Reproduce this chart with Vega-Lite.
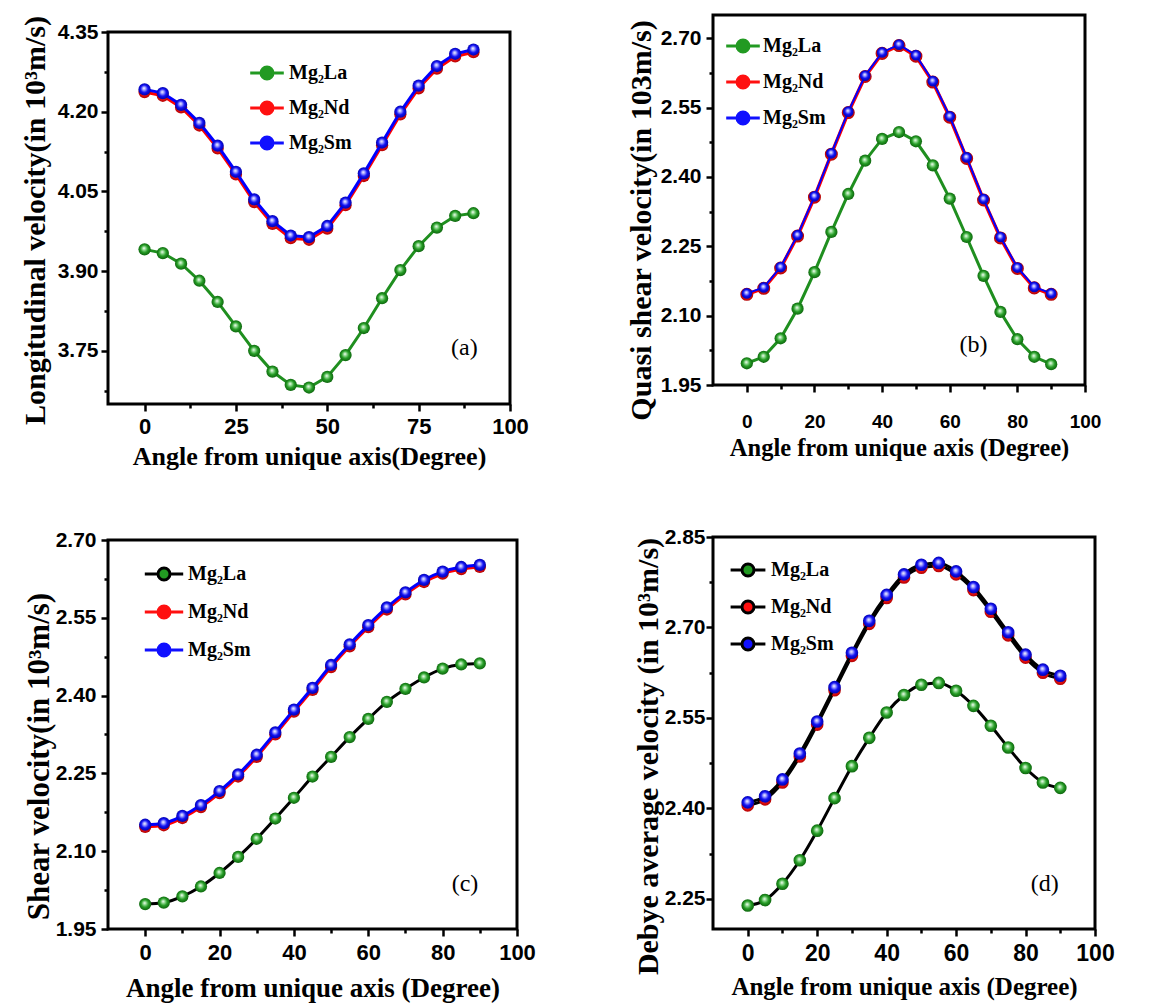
{
  "$schema": "https://vega.github.io/schema/vega-lite/v6.json",
  "padding": {"left": 18, "top": 13, "right": 5, "bottom": 0},
  "background": "white",
  "config": {
    "view": {"stroke": "black", "strokeWidth": 3},
    "axis": {"domain": false, "grid": false, "tickColor": "black", "tickWidth": 2.5, "tickSize": 7, "labelFont": "Liberation Sans", "labelFontWeight": "bold", "labelColor": "black", "labelFontSize": 21, "titleFont": "Liberation Serif", "titleFontWeight": "bold", "titleFontSize": 26, "titleColor": "black", "labelOverlap": false, "labelFlush": false, "labelPadding": 3},
    "axisY": {"titleFontSize": 30},
    "legend": {"labelFont": "Liberation Serif", "labelFontWeight": "bold", "labelFontSize": 20, "labelColor": "black"}
  },
  "datasets": {
    "a": [
      {"angle":0,"series":"Mg₂La","v":3.941},{"angle":5,"series":"Mg₂La","v":3.934},{"angle":10,"series":"Mg₂La","v":3.914},{"angle":15,"series":"Mg₂La","v":3.882},{"angle":20,"series":"Mg₂La","v":3.842},{"angle":25,"series":"Mg₂La","v":3.796},{"angle":30,"series":"Mg₂La","v":3.750},{"angle":35,"series":"Mg₂La","v":3.711},{"angle":40,"series":"Mg₂La","v":3.686},{"angle":45,"series":"Mg₂La","v":3.681},{"angle":50,"series":"Mg₂La","v":3.701},{"angle":55,"series":"Mg₂La","v":3.742},{"angle":60,"series":"Mg₂La","v":3.793},{"angle":65,"series":"Mg₂La","v":3.849},{"angle":70,"series":"Mg₂La","v":3.902},{"angle":75,"series":"Mg₂La","v":3.947},{"angle":80,"series":"Mg₂La","v":3.982},{"angle":85,"series":"Mg₂La","v":4.004},{"angle":90,"series":"Mg₂La","v":4.009},
      {"angle":0,"series":"Mg₂Nd","v":4.237},{"angle":5,"series":"Mg₂Nd","v":4.230},{"angle":10,"series":"Mg₂Nd","v":4.208},{"angle":15,"series":"Mg₂Nd","v":4.174},{"angle":20,"series":"Mg₂Nd","v":4.131},{"angle":25,"series":"Mg₂Nd","v":4.082},{"angle":30,"series":"Mg₂Nd","v":4.030},{"angle":35,"series":"Mg₂Nd","v":3.989},{"angle":40,"series":"Mg₂Nd","v":3.962},{"angle":45,"series":"Mg₂Nd","v":3.959},{"angle":50,"series":"Mg₂Nd","v":3.980},{"angle":55,"series":"Mg₂Nd","v":4.024},{"angle":60,"series":"Mg₂Nd","v":4.079},{"angle":65,"series":"Mg₂Nd","v":4.137},{"angle":70,"series":"Mg₂Nd","v":4.195},{"angle":75,"series":"Mg₂Nd","v":4.244},{"angle":80,"series":"Mg₂Nd","v":4.281},{"angle":85,"series":"Mg₂Nd","v":4.304},{"angle":90,"series":"Mg₂Nd","v":4.312},
      {"angle":0,"series":"Mg₂Sm","v":4.242},{"angle":5,"series":"Mg₂Sm","v":4.235},{"angle":10,"series":"Mg₂Sm","v":4.213},{"angle":15,"series":"Mg₂Sm","v":4.179},{"angle":20,"series":"Mg₂Sm","v":4.136},{"angle":25,"series":"Mg₂Sm","v":4.087},{"angle":30,"series":"Mg₂Sm","v":4.035},{"angle":35,"series":"Mg₂Sm","v":3.994},{"angle":40,"series":"Mg₂Sm","v":3.967},{"angle":45,"series":"Mg₂Sm","v":3.964},{"angle":50,"series":"Mg₂Sm","v":3.985},{"angle":55,"series":"Mg₂Sm","v":4.029},{"angle":60,"series":"Mg₂Sm","v":4.084},{"angle":65,"series":"Mg₂Sm","v":4.142},{"angle":70,"series":"Mg₂Sm","v":4.200},{"angle":75,"series":"Mg₂Sm","v":4.249},{"angle":80,"series":"Mg₂Sm","v":4.286},{"angle":85,"series":"Mg₂Sm","v":4.309},{"angle":90,"series":"Mg₂Sm","v":4.317}
    ],
    "b": [
      {"angle":0,"series":"Mg₂La","v":1.997},{"angle":5,"series":"Mg₂La","v":2.011},{"angle":10,"series":"Mg₂La","v":2.051},{"angle":15,"series":"Mg₂La","v":2.115},{"angle":20,"series":"Mg₂La","v":2.194},{"angle":25,"series":"Mg₂La","v":2.281},{"angle":30,"series":"Mg₂La","v":2.363},{"angle":35,"series":"Mg₂La","v":2.435},{"angle":40,"series":"Mg₂La","v":2.482},{"angle":45,"series":"Mg₂La","v":2.497},{"angle":50,"series":"Mg₂La","v":2.477},{"angle":55,"series":"Mg₂La","v":2.425},{"angle":60,"series":"Mg₂La","v":2.353},{"angle":65,"series":"Mg₂La","v":2.270},{"angle":70,"series":"Mg₂La","v":2.186},{"angle":75,"series":"Mg₂La","v":2.108},{"angle":80,"series":"Mg₂La","v":2.049},{"angle":85,"series":"Mg₂La","v":2.011},{"angle":90,"series":"Mg₂La","v":1.995},
      {"angle":0,"series":"Mg₂Nd","v":2.146},{"angle":5,"series":"Mg₂Nd","v":2.159},{"angle":10,"series":"Mg₂Nd","v":2.203},{"angle":15,"series":"Mg₂Nd","v":2.272},{"angle":20,"series":"Mg₂Nd","v":2.356},{"angle":25,"series":"Mg₂Nd","v":2.449},{"angle":30,"series":"Mg₂Nd","v":2.539},{"angle":35,"series":"Mg₂Nd","v":2.617},{"angle":40,"series":"Mg₂Nd","v":2.667},{"angle":45,"series":"Mg₂Nd","v":2.684},{"angle":50,"series":"Mg₂Nd","v":2.661},{"angle":55,"series":"Mg₂Nd","v":2.605},{"angle":60,"series":"Mg₂Nd","v":2.529},{"angle":65,"series":"Mg₂Nd","v":2.440},{"angle":70,"series":"Mg₂Nd","v":2.350},{"angle":75,"series":"Mg₂Nd","v":2.268},{"angle":80,"series":"Mg₂Nd","v":2.202},{"angle":85,"series":"Mg₂Nd","v":2.160},{"angle":90,"series":"Mg₂Nd","v":2.146},
      {"angle":0,"series":"Mg₂Sm","v":2.148},{"angle":5,"series":"Mg₂Sm","v":2.161},{"angle":10,"series":"Mg₂Sm","v":2.205},{"angle":15,"series":"Mg₂Sm","v":2.274},{"angle":20,"series":"Mg₂Sm","v":2.358},{"angle":25,"series":"Mg₂Sm","v":2.451},{"angle":30,"series":"Mg₂Sm","v":2.541},{"angle":35,"series":"Mg₂Sm","v":2.619},{"angle":40,"series":"Mg₂Sm","v":2.669},{"angle":45,"series":"Mg₂Sm","v":2.686},{"angle":50,"series":"Mg₂Sm","v":2.663},{"angle":55,"series":"Mg₂Sm","v":2.607},{"angle":60,"series":"Mg₂Sm","v":2.531},{"angle":65,"series":"Mg₂Sm","v":2.442},{"angle":70,"series":"Mg₂Sm","v":2.352},{"angle":75,"series":"Mg₂Sm","v":2.270},{"angle":80,"series":"Mg₂Sm","v":2.204},{"angle":85,"series":"Mg₂Sm","v":2.162},{"angle":90,"series":"Mg₂Sm","v":2.148}
    ],
    "c": [
      {"angle":0,"series":"Mg₂La","v":1.998},{"angle":5,"series":"Mg₂La","v":2.001},{"angle":10,"series":"Mg₂La","v":2.013},{"angle":15,"series":"Mg₂La","v":2.032},{"angle":20,"series":"Mg₂La","v":2.058},{"angle":25,"series":"Mg₂La","v":2.089},{"angle":30,"series":"Mg₂La","v":2.124},{"angle":35,"series":"Mg₂La","v":2.163},{"angle":40,"series":"Mg₂La","v":2.203},{"angle":45,"series":"Mg₂La","v":2.244},{"angle":50,"series":"Mg₂La","v":2.282},{"angle":55,"series":"Mg₂La","v":2.320},{"angle":60,"series":"Mg₂La","v":2.355},{"angle":65,"series":"Mg₂La","v":2.388},{"angle":70,"series":"Mg₂La","v":2.413},{"angle":75,"series":"Mg₂La","v":2.435},{"angle":80,"series":"Mg₂La","v":2.452},{"angle":85,"series":"Mg₂La","v":2.460},{"angle":90,"series":"Mg₂La","v":2.462},
      {"angle":0,"series":"Mg₂Nd","v":2.147},{"angle":5,"series":"Mg₂Nd","v":2.150},{"angle":10,"series":"Mg₂Nd","v":2.164},{"angle":15,"series":"Mg₂Nd","v":2.185},{"angle":20,"series":"Mg₂Nd","v":2.212},{"angle":25,"series":"Mg₂Nd","v":2.244},{"angle":30,"series":"Mg₂Nd","v":2.282},{"angle":35,"series":"Mg₂Nd","v":2.325},{"angle":40,"series":"Mg₂Nd","v":2.369},{"angle":45,"series":"Mg₂Nd","v":2.411},{"angle":50,"series":"Mg₂Nd","v":2.455},{"angle":55,"series":"Mg₂Nd","v":2.495},{"angle":60,"series":"Mg₂Nd","v":2.532},{"angle":65,"series":"Mg₂Nd","v":2.566},{"angle":70,"series":"Mg₂Nd","v":2.595},{"angle":75,"series":"Mg₂Nd","v":2.619},{"angle":80,"series":"Mg₂Nd","v":2.635},{"angle":85,"series":"Mg₂Nd","v":2.644},{"angle":90,"series":"Mg₂Nd","v":2.648},
      {"angle":0,"series":"Mg₂Sm","v":2.151},{"angle":5,"series":"Mg₂Sm","v":2.154},{"angle":10,"series":"Mg₂Sm","v":2.168},{"angle":15,"series":"Mg₂Sm","v":2.189},{"angle":20,"series":"Mg₂Sm","v":2.216},{"angle":25,"series":"Mg₂Sm","v":2.248},{"angle":30,"series":"Mg₂Sm","v":2.286},{"angle":35,"series":"Mg₂Sm","v":2.329},{"angle":40,"series":"Mg₂Sm","v":2.373},{"angle":45,"series":"Mg₂Sm","v":2.415},{"angle":50,"series":"Mg₂Sm","v":2.459},{"angle":55,"series":"Mg₂Sm","v":2.499},{"angle":60,"series":"Mg₂Sm","v":2.536},{"angle":65,"series":"Mg₂Sm","v":2.570},{"angle":70,"series":"Mg₂Sm","v":2.599},{"angle":75,"series":"Mg₂Sm","v":2.623},{"angle":80,"series":"Mg₂Sm","v":2.639},{"angle":85,"series":"Mg₂Sm","v":2.648},{"angle":90,"series":"Mg₂Sm","v":2.652}
    ],
    "d": [
      {"angle":0,"series":"Mg₂La","v":2.239},{"angle":5,"series":"Mg₂La","v":2.248},{"angle":10,"series":"Mg₂La","v":2.275},{"angle":15,"series":"Mg₂La","v":2.314},{"angle":20,"series":"Mg₂La","v":2.363},{"angle":25,"series":"Mg₂La","v":2.417},{"angle":30,"series":"Mg₂La","v":2.470},{"angle":35,"series":"Mg₂La","v":2.517},{"angle":40,"series":"Mg₂La","v":2.559},{"angle":45,"series":"Mg₂La","v":2.588},{"angle":50,"series":"Mg₂La","v":2.605},{"angle":55,"series":"Mg₂La","v":2.608},{"angle":60,"series":"Mg₂La","v":2.595},{"angle":65,"series":"Mg₂La","v":2.570},{"angle":70,"series":"Mg₂La","v":2.537},{"angle":75,"series":"Mg₂La","v":2.501},{"angle":80,"series":"Mg₂La","v":2.467},{"angle":85,"series":"Mg₂La","v":2.443},{"angle":90,"series":"Mg₂La","v":2.434},
      {"angle":0,"series":"Mg₂Nd","v":2.405},{"angle":5,"series":"Mg₂Nd","v":2.415},{"angle":10,"series":"Mg₂Nd","v":2.443},{"angle":15,"series":"Mg₂Nd","v":2.486},{"angle":20,"series":"Mg₂Nd","v":2.539},{"angle":25,"series":"Mg₂Nd","v":2.596},{"angle":30,"series":"Mg₂Nd","v":2.653},{"angle":35,"series":"Mg₂Nd","v":2.706},{"angle":40,"series":"Mg₂Nd","v":2.749},{"angle":45,"series":"Mg₂Nd","v":2.783},{"angle":50,"series":"Mg₂Nd","v":2.799},{"angle":55,"series":"Mg₂Nd","v":2.802},{"angle":60,"series":"Mg₂Nd","v":2.788},{"angle":65,"series":"Mg₂Nd","v":2.762},{"angle":70,"series":"Mg₂Nd","v":2.726},{"angle":75,"series":"Mg₂Nd","v":2.687},{"angle":80,"series":"Mg₂Nd","v":2.650},{"angle":85,"series":"Mg₂Nd","v":2.625},{"angle":90,"series":"Mg₂Nd","v":2.615},
      {"angle":0,"series":"Mg₂Sm","v":2.410},{"angle":5,"series":"Mg₂Sm","v":2.420},{"angle":10,"series":"Mg₂Sm","v":2.448},{"angle":15,"series":"Mg₂Sm","v":2.491},{"angle":20,"series":"Mg₂Sm","v":2.544},{"angle":25,"series":"Mg₂Sm","v":2.601},{"angle":30,"series":"Mg₂Sm","v":2.658},{"angle":35,"series":"Mg₂Sm","v":2.711},{"angle":40,"series":"Mg₂Sm","v":2.754},{"angle":45,"series":"Mg₂Sm","v":2.788},{"angle":50,"series":"Mg₂Sm","v":2.804},{"angle":55,"series":"Mg₂Sm","v":2.807},{"angle":60,"series":"Mg₂Sm","v":2.793},{"angle":65,"series":"Mg₂Sm","v":2.767},{"angle":70,"series":"Mg₂Sm","v":2.731},{"angle":75,"series":"Mg₂Sm","v":2.692},{"angle":80,"series":"Mg₂Sm","v":2.655},{"angle":85,"series":"Mg₂Sm","v":2.630},{"angle":90,"series":"Mg₂Sm","v":2.620}
    ]
  },
  "spacing": 605,
  "bounds": "flush",
  "resolve": {"scale": {"fill": "independent"}, "legend": {"fill": "independent"}},
  "hconcat": [
    {
      "spacing": 0,
      "bounds": "flush",
      "resolve": {"scale": {"fill": "independent"}, "legend": {"fill": "independent"}},
      "vconcat": [
        {"width": 10, "height": 17, "view": {"stroke": null}, "data": {"values": [{}]}, "mark": {"type": "text", "text": ""}, "encoding": {}},
        {
          "spacing": 136,
          "bounds": "flush",
          "resolve": {"scale": {"fill": "independent"}, "legend": {"fill": "independent"}},
          "vconcat": [
            {
              "width": 402, "height": 372,
              "data": {"name": "a"},
              "encoding": {
                "x": {"field": "angle", "type": "quantitative", "scale": {"domain": [-10, 100], "nice": false, "zero": false},
                  "axis": {"title": "Angle from unique axis(Degree)", "values": [0,12.5,25,37.5,50,62.5,75,87.5,100], "format": "d", "labelExpr": "datum.value % 25 === 0 ? datum.label : ''", "tickDash": {"condition": {"test": "datum.value % 25 !== 0", "value": [4, 10]}, "value": []}, "labelFontSize": 22, "labelPadding": 5, "titlePadding": 6}},
                "y": {"field": "v", "type": "quantitative", "scale": {"domain": [3.65, 4.35], "nice": false, "zero": false},
                  "axis": {"title": "Longitudinal velocity(in 10³m/s)", "titleY": 188, "values": [3.675,3.75,3.825,3.9,3.975,4.05,4.125,4.2,4.275,4.35], "format": ".2f", "labelExpr": "abs(datum.value/0.15 - round(datum.value/0.15)) < 0.01 ? datum.label : ''", "tickDash": {"condition": {"test": "abs(datum.value/0.15 - round(datum.value/0.15)) > 0.01", "value": [4, 10]}, "value": []}, "labelPadding": 3, "titlePadding": 7}}
              },
              "layer": [
                {"mark": {"type": "point", "filled": true, "opacity": 0},
                 "encoding": {"fill": {"field": "series", "type": "nominal", "scale": {"domain": ["Mg₂La","Mg₂Nd","Mg₂Sm"], "range": ["#229a22","#ff1010","#1010ff"]},
                   "legend": {"title": null, "orient": "none", "legendX": 149, "legendY": 31, "symbolType": "M-2.8,0L-1,0M1,0L2.8,0M-1,0A1,1 0 1,0 1,0A1,1 0 1,0 -1,0Z", "symbolSize": 144, "symbolStrokeWidth": 3, "symbolOpacity": 1, "labelOffset": 12, "rowPadding": 11,
                     "encode": {"symbols": {"update": {"opacity": {"value": 1}, "shape": {"value": "M-2.8,0L-1,0M1,0L2.8,0M-1,0A1,1 0 1,0 1,0A1,1 0 1,0 -1,0Z"}, "stroke": {"signal": "datum.value === 'Mg₂La' ? '#229a22' : datum.value === 'Mg₂Nd' ? '#ff1010' : '#1010ff'"}}}}}}}},
                {"transform": [{"filter": "datum.series === 'Mg₂La'"}], "mark": {"type": "line", "color": "#1f8f1f", "strokeWidth": 3}},
                {"transform": [{"filter": "datum.series === 'Mg₂La'"}], "mark": {"type": "point", "filled": true, "opacity": 1, "size": 150, "strokeWidth": 0, "fill": {"gradient": "radial", "x1": 0.45, "y1": 0.4, "r1": 0, "x2": 0.5, "y2": 0.5, "r2": 0.55, "stops": [{"offset": 0, "color": "#ffffff"}, {"offset": 0.25, "color": "#8fd88f"}, {"offset": 0.55, "color": "#249c24"}, {"offset": 1, "color": "#0a5a0a"}]}}},
                {"transform": [{"filter": "datum.series === 'Mg₂Nd'"}], "mark": {"type": "line", "color": "#ff0000", "strokeWidth": 3}},
                {"transform": [{"filter": "datum.series === 'Mg₂Nd'"}], "mark": {"type": "point", "filled": true, "opacity": 1, "size": 150, "strokeWidth": 0, "fill": {"gradient": "radial", "x1": 0.45, "y1": 0.4, "r1": 0, "x2": 0.5, "y2": 0.5, "r2": 0.55, "stops": [{"offset": 0, "color": "#ffffff"}, {"offset": 0.25, "color": "#ff9a9a"}, {"offset": 0.55, "color": "#f51010"}, {"offset": 1, "color": "#a00000"}]}}},
                {"transform": [{"filter": "datum.series === 'Mg₂Sm'"}], "mark": {"type": "line", "color": "#0000ff", "strokeWidth": 3}},
                {"transform": [{"filter": "datum.series === 'Mg₂Sm'"}], "mark": {"type": "point", "filled": true, "opacity": 1, "size": 150, "strokeWidth": 0, "fill": {"gradient": "radial", "x1": 0.45, "y1": 0.4, "r1": 0, "x2": 0.5, "y2": 0.5, "r2": 0.55, "stops": [{"offset": 0, "color": "#ffffff"}, {"offset": 0.25, "color": "#9a9aff"}, {"offset": 0.55, "color": "#1010f5"}, {"offset": 1, "color": "#00009a"}]}}},
                {"transform": [{"filter": "datum.series === 'Mg₂La' && datum.angle === 90"}], "mark": {"type": "text", "text": "(a)", "font": "Liberation Serif", "fontSize": 24, "color": "black"},
                 "encoding": {"x": {"datum": 87.5, "type": "quantitative"}, "y": {"datum": 3.755, "type": "quantitative"}}}
              ]
            },
            {
              "width": 409, "height": 389,
              "data": {"name": "c"},
              "encoding": {
                "x": {"field": "angle", "type": "quantitative", "scale": {"domain": [-10, 100], "nice": false, "zero": false},
                  "axis": {"title": "Angle from unique axis (Degree)", "values": [0,10,20,30,40,50,60,70,80,90,100], "format": "d", "labelExpr": "datum.value % 20 === 0 ? datum.label : ''", "tickDash": {"condition": {"test": "datum.value % 20 !== 0", "value": [4, 10]}, "value": []}, "labelFontSize": 22, "labelPadding": 6, "titlePadding": 12, "titleFontSize": 27}},
                "y": {"field": "v", "type": "quantitative", "scale": {"domain": [1.95, 2.70], "nice": false, "zero": false},
                  "axis": {"title": "Shear velocity(in 10³m/s)", "titleY": 216, "titleFontSize": 31, "values": [1.95,2.025,2.1,2.175,2.25,2.325,2.4,2.475,2.55,2.625,2.7], "format": ".2f", "labelExpr": "abs(datum.value/0.15 - round(datum.value/0.15)) < 0.01 ? datum.label : ''", "tickDash": {"condition": {"test": "abs(datum.value/0.15 - round(datum.value/0.15)) > 0.01", "value": [4, 10]}, "value": []}, "labelPadding": 5, "titlePadding": 0}}
              },
              "layer": [
                {"mark": {"type": "point", "filled": true, "opacity": 0},
                 "encoding": {"fill": {"field": "series", "type": "nominal", "scale": {"domain": ["Mg₂La","Mg₂Nd","Mg₂Sm"], "range": ["#229a22","#ff1010","#1010ff"]},
                   "legend": {"title": null, "orient": "none", "legendX": 46, "legendY": 24, "symbolType": "M-3.2,0L-1,0M1,0L3.2,0M-1,0A1,1 0 1,0 1,0A1,1 0 1,0 -1,0Z", "symbolSize": 144, "symbolStrokeWidth": 3, "symbolOpacity": 1, "labelOffset": 14, "rowPadding": 14,
                     "encode": {"symbols": {"update": {"opacity": {"value": 1}, "shape": {"value": "M-3.2,0L-1,0M1,0L3.2,0M-1,0A1,1 0 1,0 1,0A1,1 0 1,0 -1,0Z"}, "stroke": {"signal": "datum.value === 'Mg₂La' ? '#000000' : datum.value === 'Mg₂Nd' ? '#ff1010' : '#1010ff'"}}}}}}}},
                {"transform": [{"filter": "datum.series === 'Mg₂La'"}], "mark": {"type": "line", "color": "#000000", "strokeWidth": 3, "interpolate": "monotone"}},
                {"transform": [{"filter": "datum.series === 'Mg₂La'"}], "mark": {"type": "point", "filled": true, "opacity": 1, "size": 150, "strokeWidth": 0, "fill": {"gradient": "radial", "x1": 0.45, "y1": 0.4, "r1": 0, "x2": 0.5, "y2": 0.5, "r2": 0.55, "stops": [{"offset": 0, "color": "#ffffff"}, {"offset": 0.25, "color": "#8fd88f"}, {"offset": 0.55, "color": "#249c24"}, {"offset": 1, "color": "#0a5a0a"}]}}},
                {"transform": [{"filter": "datum.series === 'Mg₂Nd'"}], "mark": {"type": "line", "color": "#ff0000", "strokeWidth": 3, "interpolate": "monotone"}},
                {"transform": [{"filter": "datum.series === 'Mg₂Nd'"}], "mark": {"type": "point", "filled": true, "opacity": 1, "size": 150, "strokeWidth": 0, "fill": {"gradient": "radial", "x1": 0.45, "y1": 0.4, "r1": 0, "x2": 0.5, "y2": 0.5, "r2": 0.55, "stops": [{"offset": 0, "color": "#ffffff"}, {"offset": 0.25, "color": "#ff9a9a"}, {"offset": 0.55, "color": "#f51010"}, {"offset": 1, "color": "#a00000"}]}}},
                {"transform": [{"filter": "datum.series === 'Mg₂Sm'"}], "mark": {"type": "line", "color": "#0000ff", "strokeWidth": 3, "interpolate": "monotone"}},
                {"transform": [{"filter": "datum.series === 'Mg₂Sm'"}], "mark": {"type": "point", "filled": true, "opacity": 1, "size": 150, "strokeWidth": 0, "fill": {"gradient": "radial", "x1": 0.45, "y1": 0.4, "r1": 0, "x2": 0.5, "y2": 0.5, "r2": 0.55, "stops": [{"offset": 0, "color": "#ffffff"}, {"offset": 0.25, "color": "#9a9aff"}, {"offset": 0.55, "color": "#1010f5"}, {"offset": 1, "color": "#00009a"}]}}},
                {"transform": [{"filter": "datum.series === 'Mg₂La' && datum.angle === 90"}], "mark": {"type": "text", "text": "(c)", "font": "Liberation Serif", "fontSize": 24, "color": "black"},
                 "encoding": {"x": {"datum": 86, "type": "quantitative"}, "y": {"datum": 2.037, "type": "quantitative"}}}
              ]
            }
          ]
        }
      ]
    },
    {
      "spacing": 152,
      "bounds": "flush",
      "resolve": {"scale": {"fill": "independent"}, "legend": {"fill": "independent"}},
      "vconcat": [
        {
          "width": 372, "height": 370,
          "data": {"name": "b"},
          "encoding": {
            "x": {"field": "angle", "type": "quantitative", "scale": {"domain": [-10, 100], "nice": false, "zero": false},
              "axis": {"title": "Angle from unique axis (Degree)", "values": [0,10,20,30,40,50,60,70,80,90,100], "format": "d", "labelExpr": "datum.value % 20 === 0 ? datum.label : ''", "tickDash": {"condition": {"test": "datum.value % 20 !== 0", "value": [4, 10]}, "value": []}, "labelFontSize": 19, "labelPadding": 20, "titlePadding": 5, "titleFontSize": 24.5}},
            "y": {"field": "v", "type": "quantitative", "scale": {"domain": [1.95, 2.75], "nice": false, "zero": false},
              "axis": {"title": "Quasi shear velocity(in 103m/s)", "titleY": 205, "values": [1.95,2.025,2.1,2.175,2.25,2.325,2.4,2.475,2.55,2.625,2.7], "format": ".2f", "labelExpr": "abs(datum.value/0.15 - round(datum.value/0.15)) < 0.01 ? datum.label : ''", "tickDash": {"condition": {"test": "abs(datum.value/0.15 - round(datum.value/0.15)) > 0.01", "value": [4, 10]}, "value": []}, "labelPadding": 5, "titlePadding": 4}}
          },
          "layer": [
            {"mark": {"type": "point", "filled": true, "opacity": 0},
             "encoding": {"fill": {"field": "series", "type": "nominal", "scale": {"domain": ["Mg₂La","Mg₂Nd","Mg₂Sm"], "range": ["#229a22","#ff1010","#1010ff"]},
               "legend": {"title": null, "orient": "none", "legendX": 20, "legendY": 21, "symbolType": "M-2.8,0L-1,0M1,0L2.8,0M-1,0A1,1 0 1,0 1,0A1,1 0 1,0 -1,0Z", "symbolSize": 144, "symbolStrokeWidth": 3, "symbolOpacity": 1, "labelOffset": 10, "rowPadding": 12,
                 "encode": {"symbols": {"update": {"opacity": {"value": 1}, "shape": {"value": "M-2.8,0L-1,0M1,0L2.8,0M-1,0A1,1 0 1,0 1,0A1,1 0 1,0 -1,0Z"}, "stroke": {"signal": "datum.value === 'Mg₂La' ? '#229a22' : datum.value === 'Mg₂Nd' ? '#ff1010' : '#1010ff'"}}}}}}}},
            {"transform": [{"filter": "datum.series === 'Mg₂La'"}], "mark": {"type": "line", "color": "#1f8f1f", "strokeWidth": 3}},
            {"transform": [{"filter": "datum.series === 'Mg₂La'"}], "mark": {"type": "point", "filled": true, "opacity": 1, "size": 150, "strokeWidth": 0, "fill": {"gradient": "radial", "x1": 0.45, "y1": 0.4, "r1": 0, "x2": 0.5, "y2": 0.5, "r2": 0.55, "stops": [{"offset": 0, "color": "#ffffff"}, {"offset": 0.25, "color": "#8fd88f"}, {"offset": 0.55, "color": "#249c24"}, {"offset": 1, "color": "#0a5a0a"}]}}},
            {"transform": [{"filter": "datum.series === 'Mg₂Nd'"}], "mark": {"type": "line", "color": "#ff0000", "strokeWidth": 3.5}},
            {"transform": [{"filter": "datum.series === 'Mg₂Nd'"}], "mark": {"type": "point", "filled": true, "opacity": 1, "size": 170, "strokeWidth": 0, "fill": {"gradient": "radial", "x1": 0.45, "y1": 0.4, "r1": 0, "x2": 0.5, "y2": 0.5, "r2": 0.55, "stops": [{"offset": 0, "color": "#ffffff"}, {"offset": 0.25, "color": "#ff9a9a"}, {"offset": 0.55, "color": "#f51010"}, {"offset": 1, "color": "#a00000"}]}}},
            {"transform": [{"filter": "datum.series === 'Mg₂Sm'"}], "mark": {"type": "line", "color": "#0000ff", "strokeWidth": 2}},
            {"transform": [{"filter": "datum.series === 'Mg₂Sm'"}], "mark": {"type": "point", "filled": true, "opacity": 1, "size": 115, "strokeWidth": 0, "fill": {"gradient": "radial", "x1": 0.45, "y1": 0.4, "r1": 0, "x2": 0.5, "y2": 0.5, "r2": 0.55, "stops": [{"offset": 0, "color": "#ffffff"}, {"offset": 0.25, "color": "#9a9aff"}, {"offset": 0.55, "color": "#1010f5"}, {"offset": 1, "color": "#00009a"}]}}},
            {"transform": [{"filter": "datum.series === 'Mg₂La' && datum.angle === 90"}], "mark": {"type": "text", "text": "(b)", "font": "Liberation Serif", "fontSize": 24, "color": "black"},
             "encoding": {"x": {"datum": 67, "type": "quantitative"}, "y": {"datum": 2.036, "type": "quantitative"}}}
          ]
        },
        {
          "width": 382, "height": 392,
          "data": {"name": "d"},
          "encoding": {
            "x": {"field": "angle", "type": "quantitative", "scale": {"domain": [-10, 100], "nice": false, "zero": false},
              "axis": {"title": "Angle from unique axis (Degree)", "values": [0,10,20,30,40,50,60,70,80,90,100], "format": "d", "labelExpr": "datum.value % 20 === 0 ? datum.label : ''", "tickDash": {"condition": {"test": "datum.value % 20 !== 0", "value": [4, 10]}, "value": []}, "labelFontSize": 23, "labelPadding": 6, "titlePadding": 9, "titleFontSize": 25}},
            "y": {"field": "v", "type": "quantitative", "scale": {"domain": [2.2, 2.85], "nice": false, "zero": false},
              "axis": {"title": "Debye average velocity (in 10³m/s)", "titleY": 219, "values": [2.25,2.325,2.4,2.475,2.55,2.625,2.7,2.775,2.85], "format": ".2f", "labelExpr": "abs(datum.value/0.15 - round(datum.value/0.15)) < 0.01 ? datum.label : ''", "tickDash": {"condition": {"test": "abs(datum.value/0.15 - round(datum.value/0.15)) > 0.01", "value": [4, 10]}, "value": []}, "labelPadding": 1, "titlePadding": 1}}
          },
          "layer": [
            {"mark": {"type": "point", "filled": true, "opacity": 0},
             "encoding": {"fill": {"field": "series", "type": "nominal", "scale": {"domain": ["Mg₂La","Mg₂Nd","Mg₂Sm"], "range": ["#229a22","#ff1010","#1010ff"]},
               "legend": {"title": null, "orient": "none", "legendX": 25, "legendY": 23, "symbolType": "M-2.9,0L-1,0M1,0L2.9,0M-1,0A1,1 0 1,0 1,0A1,1 0 1,0 -1,0Z", "symbolSize": 144, "symbolStrokeWidth": 3, "symbolOpacity": 1, "labelOffset": 13, "rowPadding": 13,
                 "encode": {"symbols": {"update": {"opacity": {"value": 1}, "shape": {"value": "M-2.9,0L-1,0M1,0L2.9,0M-1,0A1,1 0 1,0 1,0A1,1 0 1,0 -1,0Z"}, "stroke": {"value": "#000000"}}}}}}}},
            {"transform": [{"filter": "datum.series === 'Mg₂La'"}], "mark": {"type": "line", "color": "#000000", "strokeWidth": 3, "interpolate": "monotone"}},
            {"transform": [{"filter": "datum.series === 'Mg₂La'"}], "mark": {"type": "point", "filled": true, "opacity": 1, "size": 160, "strokeWidth": 0, "fill": {"gradient": "radial", "x1": 0.45, "y1": 0.4, "r1": 0, "x2": 0.5, "y2": 0.5, "r2": 0.55, "stops": [{"offset": 0, "color": "#ffffff"}, {"offset": 0.25, "color": "#8fd88f"}, {"offset": 0.55, "color": "#249c24"}, {"offset": 1, "color": "#0a5a0a"}]}}},
            {"transform": [{"filter": "datum.series === 'Mg₂Nd'"}], "mark": {"type": "line", "color": "#000000", "strokeWidth": 3, "interpolate": "monotone"}},
            {"transform": [{"filter": "datum.series === 'Mg₂Nd'"}], "mark": {"type": "point", "filled": true, "opacity": 1, "size": 160, "strokeWidth": 0, "fill": {"gradient": "radial", "x1": 0.45, "y1": 0.4, "r1": 0, "x2": 0.5, "y2": 0.5, "r2": 0.55, "stops": [{"offset": 0, "color": "#ffffff"}, {"offset": 0.25, "color": "#ff9a9a"}, {"offset": 0.55, "color": "#f51010"}, {"offset": 1, "color": "#a00000"}]}}},
            {"transform": [{"filter": "datum.series === 'Mg₂Sm'"}], "mark": {"type": "line", "color": "#000000", "strokeWidth": 3, "interpolate": "monotone"}},
            {"transform": [{"filter": "datum.series === 'Mg₂Sm'"}], "mark": {"type": "point", "filled": true, "opacity": 1, "size": 160, "strokeWidth": 0, "fill": {"gradient": "radial", "x1": 0.45, "y1": 0.4, "r1": 0, "x2": 0.5, "y2": 0.5, "r2": 0.55, "stops": [{"offset": 0, "color": "#ffffff"}, {"offset": 0.25, "color": "#9a9aff"}, {"offset": 0.55, "color": "#1010f5"}, {"offset": 1, "color": "#00009a"}]}}},
            {"transform": [{"filter": "datum.series === 'Mg₂La' && datum.angle === 90"}], "mark": {"type": "text", "text": "(d)", "font": "Liberation Serif", "fontSize": 24, "color": "black"},
             "encoding": {"x": {"datum": 85.5, "type": "quantitative"}, "y": {"datum": 2.275, "type": "quantitative"}}}
          ]
        }
      ]
    }
  ]
}
